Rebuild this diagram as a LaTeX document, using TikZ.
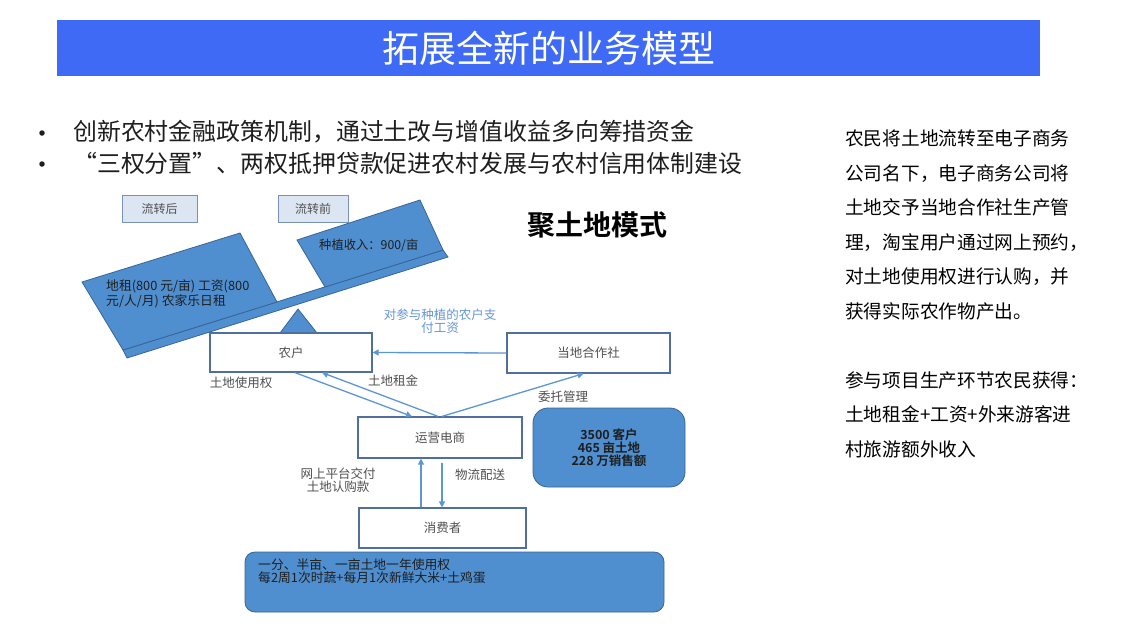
\documentclass[tikz,border=0pt]{standalone}
\usepackage{fontspec}
\setmainfont{Noto Sans CJK SC}[BoldFont={Noto Sans CJK SC Bold}]
\usepackage{tikz}
\usetikzlibrary{arrows.meta,calc}
\usepackage{xcolor}

\definecolor{titleblue}{RGB}{62,106,245}
\definecolor{blockfill}{RGB}{79,143,208}
\definecolor{blockline}{RGB}{58,100,150}
\definecolor{flowblue}{RGB}{91,150,213}
\definecolor{boxline}{RGB}{80,110,160}
\definecolor{tagfill}{RGB}{220,230,242}
\definecolor{tagline}{RGB}{120,145,180}
\definecolor{labelblue}{RGB}{100,150,215}
\definecolor{textdark}{RGB}{30,30,30}
\definecolor{labgray}{RGB}{80,80,80}

\tikzset{
  block/.style={fill=blockfill, draw=blockline, line width=0.8pt},
  tagbox/.style={draw=tagline, fill=tagfill, line width=1pt, minimum width=75pt, minimum height=27pt, font=\fontsize{12}{13}\selectfont, text=labgray},
  flowbox/.style={draw=boxline, fill=white, line width=1.2pt, font=\fontsize{12.5}{13}\selectfont, text=labgray},
  infobox/.style={fill=blockfill, draw=blockline, line width=0.8pt, font=\bfseries\fontsize{12.5}{13}\selectfont, text=textdark},
  flow/.style={draw=flowblue, line width=1.3pt, -{Triangle[length=6pt,width=6pt]}},
  lab/.style={font=\fontsize{12.5}{13}\selectfont, text=labgray, align=center, inner sep=0pt},
  bullet/.style={circle, fill=textdark, inner sep=0pt, minimum size=5.5pt}
}

\begin{document}
\begin{tikzpicture}[x=1pt, y=-1pt]
\useasboundingbox[fill=white] (0,0) rectangle (1145,640);

% title bar
\node[fill=titleblue, minimum width=983pt, minimum height=56pt, inner sep=0pt, text=white, font=\fontsize{37}{40}\selectfont] (title) at (548.5,48) {拓展全新的业务模型};

% bullets
\node[bullet] (dot1) at (42,133) {};
\node[bullet] (dot2) at (42,164) {};
\node[anchor=west, inner sep=0pt, font=\fontsize{23.9}{26}\selectfont, text=textdark] (bul1) at (73,132) {创新农村金融政策机制，通过土改与增值收益多向筹措资金};
\node[anchor=west, inner sep=0pt, font=\fontsize{23.9}{26}\selectfont, text=textdark] (bul2) at (73,163) {“三权分置”、两权抵押贷款促进农村发展与农村信用体制建设};

% right text
\node[anchor=north west, inner sep=0pt, align=left, font=\fontsize{18.7}{34.5}\selectfont, text=black] (note) at (845,130)
  {农民将土地流转至电子商务\\公司名下，电子商务公司将\\土地交予当地合作社生产管\\理，淘宝用户通过网上预约，\\对土地使用权进行认购，并\\获得实际农作物产出。\\[34.5pt]参与项目生产环节农民获得：\\土地租金+工资+外来游客进\\村旅游额外收入};

\node[font=\bfseries\fontsize{28}{30}\selectfont, text=black, inner sep=0pt] (mode) at (597,225) {聚土地模式};

% seesaw
\node[tagbox] (after) at (159.5,208.5) {流转后};
\node[tagbox, minimum width=70pt] (before) at (313,208.5) {流转前};
\filldraw[block] (280,333) -- (298,309) -- (317,333) -- cycle;
\filldraw[block] (123,350) -- (443,250) -- (448,257) -- (127,358) -- cycle;
\filldraw[block] (123,350) -- (277,302) -- (240,233) -- (82,282) -- cycle;
\filldraw[block] (325,287) -- (443,250) -- (420,200) -- (297,240) -- cycle;
\node[anchor=west, inner sep=0pt, font=\fontsize{12.3}{13}\selectfont, text=textdark] (income) at (319,245) {种植收入：900/亩};
\node[anchor=west, inner sep=0pt, align=left, font=\fontsize{12.8}{12.5}\selectfont, text=textdark] (rent) at (106,294) {地租(800 元/亩) 工资(800\\元/人/月) 农家乐日租};

% flow boxes
\node[flowbox, minimum width=162pt, minimum height=39pt] (nonghu) at (291,352.5) {农户};
\node[flowbox, minimum width=163pt, minimum height=40pt] (coop) at (588.5,353) {当地合作社};
\node[flowbox, minimum width=164pt, minimum height=41pt] (ds) at (440,437.5) {运营电商};
\node[flowbox, minimum width=167pt, minimum height=40pt] (xfz) at (442.5,528) {消费者};
\node[infobox, rounded corners=15pt, minimum width=152pt, minimum height=79pt, align=center] (stats) at (609,447.5) {3500 客户\\465 亩土地\\228 万销售额};
\node[infobox, rounded corners=10pt, minimum width=419pt, minimum height=60pt] (offer) at (454.5,582) {};
\node[anchor=west, inner sep=0pt, align=left, font=\fontsize{12.8}{12.5}\selectfont, text=textdark] (offertxt) at (258,571) {一分、半亩、一亩土地一年使用权\\每2周1次时蔬+每月1次新鲜大米+土鸡蛋};

% connectors
\draw[flow] (coop.west) -- (nonghu.east);
\draw[flow] ([xshift=4pt]nonghu.south) -- ([xshift=-28pt]ds.north);
\draw[flow] ([xshift=-2pt]ds.north) -- ([xshift=31pt]nonghu.south);
\draw[flow] ([xshift=2pt]ds.north) -- ([xshift=-5pt]coop.south);
\draw[flow] ([xshift=-21.5pt]xfz.north) -- ([xshift=-19pt]ds.south);
\draw[flow] ([xshift=2pt,yshift=-4pt]ds.south) -- ([xshift=-0.5pt]xfz.north);

% labels
\node[lab, text=labelblue] (wage) at (440,321.5) {对参与种植的农户支\\付工资};
\node[lab] (use) at (241,383) {土地使用权};
\node[lab] (zujin) at (393,381) {土地租金};
\node[lab] (entrust) at (563,397) {委托管理};
\node[lab] (pay) at (338,480) {网上平台交付\\土地认购款};
\node[lab] (wuliu) at (480,475) {物流配送};
\end{tikzpicture}
\end{document}
